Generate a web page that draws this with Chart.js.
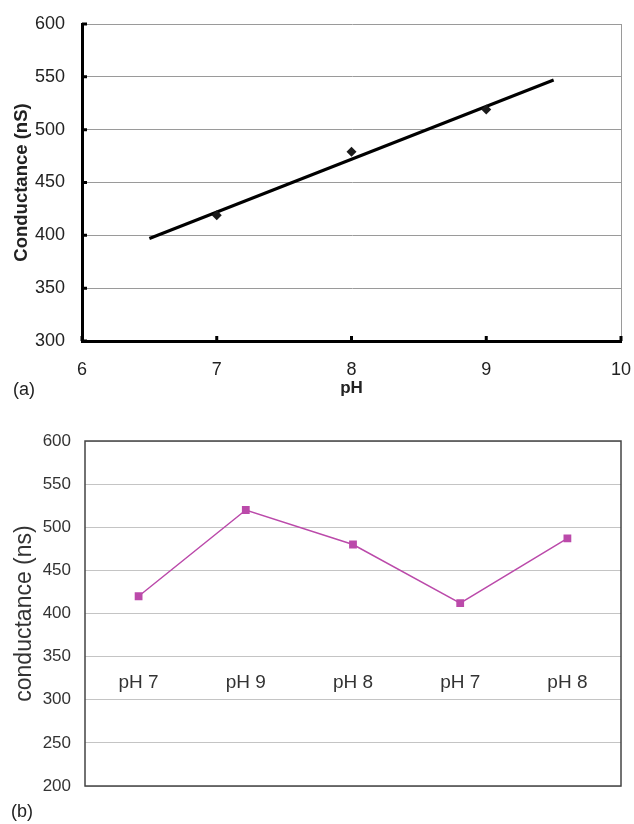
<!DOCTYPE html>
<html>
<head>
<meta charset="utf-8">
<script src="https://cdn.jsdelivr.net/npm/chart.js@4.4.0/dist/chart.umd.min.js"></script>
<style>
  body { margin: 0; background: #fff; width: 634px; height: 824px; position: relative; overflow: hidden; }
  .box { position: absolute; left: 0; width: 634px; }
  .tag { position: absolute; font: 18px 'Liberation Sans', Arial, sans-serif; color: #222; line-height: 20px; }
</style>
</head>
<body>
<div class="box" style="top:0;height:400px"><canvas id="chart-a"></canvas></div>
<div class="box" style="top:420px;height:404px"><canvas id="chart-b"></canvas></div>
<div class="tag" style="left:13px;top:379px">(a)</div>
<div class="tag" style="left:11px;top:801px">(b)</div>

<script>
// (a) conductance vs pH, with linear trend
const phValues = [7, 8, 9];
const conductanceA = [419, 479, 519];
const trendPH = [6.5, 9.5];
const trendConductance = [397, 547];

// (b) conductance over the pH sequence
const sampleLabels = ['pH 7', 'pH 9', 'pH 8', 'pH 7', 'pH 8'];
const conductanceB = [420, 520, 480, 412, 487];

const FONT = "'Liberation Sans', Arial, sans-serif";

// fixed axis sizes, no extra room for overhanging labels
const fixX = h => s => { s.height = h; s.paddingLeft = 0; s.paddingRight = 0; };
const fixY = w => s => { s.width = w; s.paddingTop = 0; s.paddingBottom = 0; };

// black tick marks pointing into the plot, plus the thin grey right edge
const innerTicks = {
  id: 'innerTicks',
  afterDraw(chart) {
    const { ctx, chartArea: a, scales: { x, y } } = chart;
    ctx.save();
    ctx.strokeStyle = '#9a9a9a';
    ctx.lineWidth = 1;
    ctx.beginPath();
    ctx.moveTo(a.right + 0.5, a.top);
    ctx.lineTo(a.right + 0.5, a.bottom);
    ctx.stroke();

    ctx.strokeStyle = '#000';
    ctx.lineWidth = 3;
    ctx.beginPath();
    y.ticks.forEach(t => {
      const py = y.getPixelForValue(t.value);
      ctx.moveTo(a.left, py);
      ctx.lineTo(a.left + 5, py);
    });
    x.ticks.forEach(t => {
      const px = x.getPixelForValue(t.value);
      ctx.moveTo(px, a.bottom);
      ctx.lineTo(px, a.bottom - 5);
    });
    ctx.stroke();
    ctx.restore();
  }
};

new Chart(document.getElementById('chart-a'), {
  type: 'scatter',
  data: {
    datasets: [
      {
        label: 'measured',
        data: phValues.map((p, i) => ({ x: p, y: conductanceA[i] })),
        pointStyle: 'rectRot',
        pointRadius: 5,
        backgroundColor: '#1a1a1a',
        borderColor: '#1a1a1a',
        borderWidth: 0,
      },
      {
        label: 'trend',
        data: trendPH.map((p, i) => ({ x: p, y: trendConductance[i] })),
        showLine: true,
        pointRadius: 0,
        borderColor: '#000',
        borderWidth: 3,
      }
    ]
  },
  options: {
    responsive: true,
    maintainAspectRatio: false,
    animation: false,
    layout: { padding: { left: 0, right: 13, top: 24, bottom: 1 } },
    plugins: { legend: { display: false }, tooltip: { enabled: false } },
    scales: {
      x: {
        type: 'linear',
        min: 6, max: 10,
        afterFit: fixX(58),
        ticks: { stepSize: 1, color: '#222', padding: 18, font: { family: FONT, size: 18 } },
        grid: { display: false, drawTicks: false },
        border: { color: '#000', width: 3 },
        title: { display: true, text: 'pH', color: '#222', padding: { top: 0, bottom: 0 },
                 font: { family: FONT, size: 17, weight: 'bold' } }
      },
      y: {
        min: 300, max: 600,
        afterFit: fixY(82),
        ticks: { stepSize: 50, color: '#222', padding: 17, font: { family: FONT, size: 18 } },
        grid: { color: '#9a9a9a', lineWidth: 1, drawTicks: false },
        border: { color: '#000', width: 3 },
        title: { display: true, text: 'Conductance (nS)', color: '#222', padding: { top: 11, bottom: 0 },
                 font: { family: FONT, size: 18.5, weight: 'bold' } }
      }
    }
  },
  plugins: [innerTicks]
});

// dark frame around the plot and the category names written inside it
const frameAndLabels = {
  id: 'frameAndLabels',
  afterDraw(chart) {
    const { ctx, chartArea: a, scales: { x, y } } = chart;
    ctx.save();
    ctx.strokeStyle = '#444';
    ctx.lineWidth = 1.5;
    ctx.strokeRect(a.left, a.top, a.right - a.left, a.bottom - a.top);

    ctx.fillStyle = '#333';
    ctx.font = `19px ${FONT}`;
    ctx.textAlign = 'center';
    ctx.textBaseline = 'middle';
    const labelY = y.getPixelForValue(320);
    chart.data.labels.forEach((lab, i) => {
      ctx.fillText(lab, x.getPixelForValue(i), labelY);
    });
    ctx.restore();
  }
};

new Chart(document.getElementById('chart-b'), {
  type: 'line',
  data: {
    labels: sampleLabels,
    datasets: [{
      label: 'conductance',
      data: conductanceB,
      borderColor: '#bb4aaa',
      backgroundColor: '#bb4aaa',
      borderWidth: 1.5,
      pointStyle: 'rect',
      pointRadius: 5.5,
      pointBorderWidth: 0,
      tension: 0,
    }]
  },
  options: {
    responsive: true,
    maintainAspectRatio: false,
    animation: false,
    layout: { padding: { left: 0, right: 13, top: 21, bottom: 38 } },
    plugins: { legend: { display: false }, tooltip: { enabled: false } },
    scales: {
      x: { display: false, offset: true },
      y: {
        min: 200, max: 600,
        afterFit: fixY(85),
        ticks: { stepSize: 50, color: '#333', padding: 14, font: { family: FONT, size: 17 } },
        grid: { color: '#c4c4c4', lineWidth: 1, drawTicks: false },
        border: { display: false },
        title: { display: true, text: 'conductance (ns)', color: '#333', padding: { top: 11, bottom: 0 },
                 font: { family: FONT, size: 23 } }
      }
    }
  },
  plugins: [frameAndLabels]
});
</script>
</body>
</html>
